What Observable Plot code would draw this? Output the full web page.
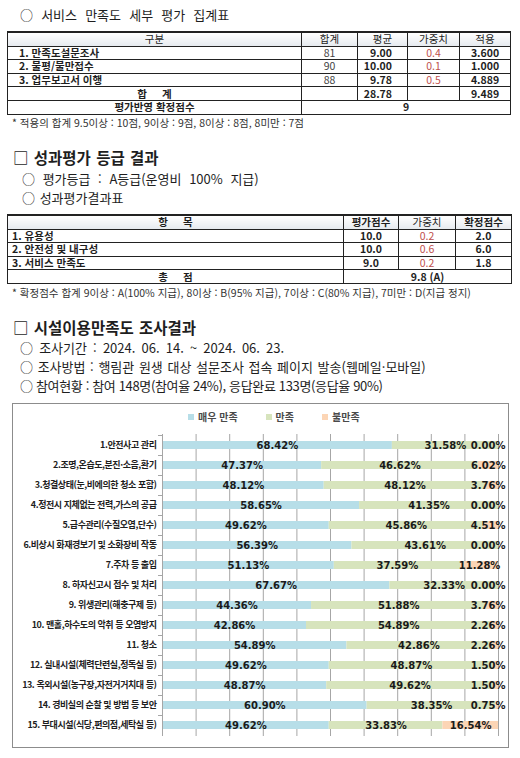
<!DOCTYPE html>
<html lang="ko">
<head>
<meta charset="utf-8">
<script src="https://cdn.jsdelivr.net/npm/d3@7"></script>
<script src="https://cdn.jsdelivr.net/npm/@observablehq/plot@0.6"></script>
<style>
  body { margin:0; width:520px; height:758px; background:#fff; position:relative; overflow:hidden;
         font-family:"Noto Sans CJK KR","Noto Sans",sans-serif; color:#1e1e1e; }
  .ln { position:absolute; white-space:nowrap; font-size:13px; line-height:16px; word-spacing:1px; }
  .hd { font-weight:bold; font-size:15.5px; }
  .nota { position:absolute; white-space:nowrap; font-size:10.5px; line-height:12px; color:#333; }
  table.t { position:absolute; border-collapse:collapse; table-layout:fixed; font-size:10.5px; }
  table.t td { border:1px solid #222; height:12.6px; padding:0 4px; line-height:12px; white-space:nowrap; overflow:hidden; }
  table.t tr:first-child td { border-top:2px solid #222; background:linear-gradient(#fff,#e6eaef); text-align:center; }
  .c { text-align:center; } .r { text-align:right; padding-right:15px !important; }
  .b { font-weight:bold; } .rojo { color:#c0504d; } .gris { color:#444; }
  #caja { position:absolute; left:12px; top:403px; width:495px; height:343px; border:1px solid #8c8c8c; }
  #leyenda { height:24px; display:flex; align-items:center; gap:28px; padding-left:175px;
             font-size:10px; font-weight:bold; color:#4a4a4a; }
  #leyenda span i { display:inline-block; width:6px; height:6px; margin-right:4px; vertical-align:1px; }
  #caja svg { display:block; }
  #caja svg [aria-label="y-axis tick label"] text { letter-spacing:-0.45px; }
</style>
</head>
<body>

<div class="ln" style="left:20px;top:7px;word-spacing:4.5px">○ 서비스 만족도 세부 평가 집계표</div>
<table class="t" style="left:7px;top:31px;width:503px">
  <colgroup><col style="width:294px"><col style="width:56px"><col style="width:50px"><col style="width:52px"><col style="width:51px"></colgroup>
  <tr><td>구분</td><td>합계</td><td>평균</td><td>가중치</td><td>적용</td></tr>
  <tr><td class="b" style="padding-left:11px">1. 만족도설문조사</td><td class="c gris">81</td><td class="r b">9.00</td><td class="c rojo">0.4</td><td class="c b">3.600</td></tr>
  <tr><td class="b" style="padding-left:11px">2. 불평/불만접수</td><td class="c gris">90</td><td class="r b">10.00</td><td class="c rojo">0.1</td><td class="c b">1.000</td></tr>
  <tr><td class="b" style="padding-left:11px">3. 업무보고서 이행</td><td class="c gris">88</td><td class="r b">9.78</td><td class="c rojo">0.5</td><td class="c b">4.889</td></tr>
  <tr><td class="c b" style="word-spacing:12px">합 계</td><td></td><td class="r b">28.78</td><td></td><td class="c b">9.489</td></tr>
  <tr><td class="c b">평가반영 확정점수</td><td colspan="4" class="c b">9</td></tr>
</table>
<div class="nota" style="left:12px;top:117px">* 적용의 합계 9.5이상 : 10점, 9이상 : 9점, 8이상 : 8점, 8미만 : 7점</div>

<div class="ln hd" style="left:13px;top:149px">□ 성과평가 등급 결과</div>
<div class="ln" style="left:22px;top:171px;word-spacing:4px">○ 평가등급 : A등급(운영비 100% 지급)</div>
<div class="ln" style="left:22px;top:190px">○ 성과평가결과표</div>
<table class="t" style="left:7px;top:214px;width:504px">
  <colgroup><col style="width:336px"><col style="width:55px"><col style="width:57px"><col style="width:56px"></colgroup>
  <tr><td class="b" style="word-spacing:12px">항 목</td><td class="b">평가점수</td><td>가중치</td><td class="b">확정점수</td></tr>
  <tr><td class="b">1. 유용성</td><td class="c b">10.0</td><td class="c rojo">0.2</td><td class="c b">2.0</td></tr>
  <tr><td class="b">2. 안전성 및 내구성</td><td class="c b">10.0</td><td class="c rojo">0.6</td><td class="c b">6.0</td></tr>
  <tr><td class="b">3. 서비스 만족도</td><td class="c b">9.0</td><td class="c rojo">0.2</td><td class="c b">1.8</td></tr>
  <tr><td class="c b" style="word-spacing:12px">총 점</td><td colspan="3" class="c b">9.8 (A)</td></tr>
</table>
<div class="nota" style="left:12px;top:287px">* 확정점수 합계 9이상 : A(100% 지급), 8이상 : B(95% 지급), 7이상 : C(80% 지급), 7미만 : D(지급 정지)</div>

<div class="ln hd" style="left:13px;top:319px">□ 시설이용만족도 조사결과</div>
<div class="ln" style="left:20px;top:340px;word-spacing:2.5px">○ 조사기간 : 2024. 06. 14. ~ 2024. 06. 23.</div>
<div class="ln" style="left:20px;top:359px">○ 조사방법 : 행림관 원생 대상 설문조사 접속 페이지 발송(웹메일·모바일)</div>
<div class="ln" style="left:20px;top:378px;letter-spacing:-0.35px;word-spacing:0">○ 참여현황 : 참여 148명(참여율 24%), 응답완료 133명(응답율 90%)</div>

<div id="caja"><div id="leyenda"></div></div>

<script>
// 항목 (위에서 아래 순서)
const ITEMS = [
  "1.안전사고 관리",
  "2.조명,온습도,분진·소음,환기",
  "3.청결상태(눈,비에의한 청소 포함)",
  "4.정전시 지체없는 전력,가스의 공급",
  "5.급수관리(수질오염,단수)",
  "6.비상시 화재경보기 및 소화장비 작동",
  "7.주차 등 출입",
  "8. 하자신고시 접수 및 처리",
  "9. 위생관리(해충구제 등)",
  "10. 맨홀,하수도의 악취 등 오염방지",
  "11. 청소",
  "12. 실내시설(체력단련실,정독실 등)",
  "13. 옥외시설(농구장,자전거거치대 등)",
  "14. 경비실의 순찰 및 방범 등 보안",
  "15. 부대시설(식당,편의점,세탁실 등)"
];
const SERIES = ["매우 만족", "만족", "불만족"];
const COLORS = ["#b7dee8", "#d7e4bd", "#fcd5b5"];

const VERY_SAT = [68.42, 47.37, 48.12, 58.65, 49.62, 56.39, 51.13, 67.67, 44.36, 42.86, 54.89, 49.62, 48.87, 60.90, 49.62];
const SAT      = [31.58, 46.62, 48.12, 41.35, 45.86, 43.61, 37.59, 32.33, 51.88, 54.89, 42.86, 48.87, 49.62, 38.35, 33.83];
const UNSAT    = [ 0.00,  6.02,  3.76,  0.00,  4.51,  0.00, 11.28,  0.00,  3.76,  2.26,  2.26,  1.50,  1.50,  0.75, 16.54];

const rows = [VERY_SAT, SAT, UNSAT].flatMap((vals, k) =>
  ITEMS.map((item, i) => ({item, serie: SERIES[k], v: vals[i]})));

const pct = (d) => d.v.toFixed(2) + "%";
// 불만족 값이 작으면 엑셀처럼 막대 오른쪽 끝에 붙여 표시
const small = (d) => d.serie === "불만족" && d.v < 5;

const leyenda = document.getElementById("leyenda");
SERIES.forEach((s, k) => {
  const span = document.createElement("span");
  span.innerHTML = `<i style="background:${COLORS[k]}"></i>${s}`;
  leyenda.appendChild(span);
});

const chart = Plot.plot({
  width: 495, height: 319,
  marginLeft: 149, marginRight: 10, marginTop: 6, marginBottom: 11,
  style: {background: "transparent", color: "#1e1e1e", fontFamily: "'Noto Sans CJK KR', sans-serif"},
  x: {domain: [0, 100], axis: null},
  y: {domain: ITEMS, paddingInner: 0.62, paddingOuter: 0.31, label: null},
  color: {domain: SERIES, range: COLORS},
  marks: [
    Plot.gridX({ticks: 10, stroke: "#a6a6a6", strokeOpacity: 1}),
    Plot.barX(rows, Plot.stackX({x: "v", y: "item", z: "serie", order: SERIES, fill: "serie"})),
    Plot.ruleX([0], {stroke: "#a6a6a6"}),
    Plot.axisY({tickSize: 4, tickFormat: () => "", dy: -10, stroke: "#a6a6a6"}),
    Plot.axisY({tickSize: 0, tickPadding: 6, fontSize: 9, fontWeight: "bold", fill: "#1e1e1e"}),
    Plot.text(rows, Plot.stackX({
      x: "v", y: "item", z: "serie", order: SERIES,
      text: (d) => small(d) ? "" : pct(d),
      fontFamily: "'DejaVu Sans', sans-serif", fontSize: 10, fontWeight: "bold", fill: "#1a1a1a"
    })),
    Plot.text(rows.filter(small), {
      x: () => 100, y: "item", text: pct, textAnchor: "end", dx: 7,
      fontFamily: "'DejaVu Sans', sans-serif", fontSize: 10, fontWeight: "bold", fill: "#1a1a1a"
    })
  ]
});
document.getElementById("caja").appendChild(chart);
</script>
</body>
</html>
